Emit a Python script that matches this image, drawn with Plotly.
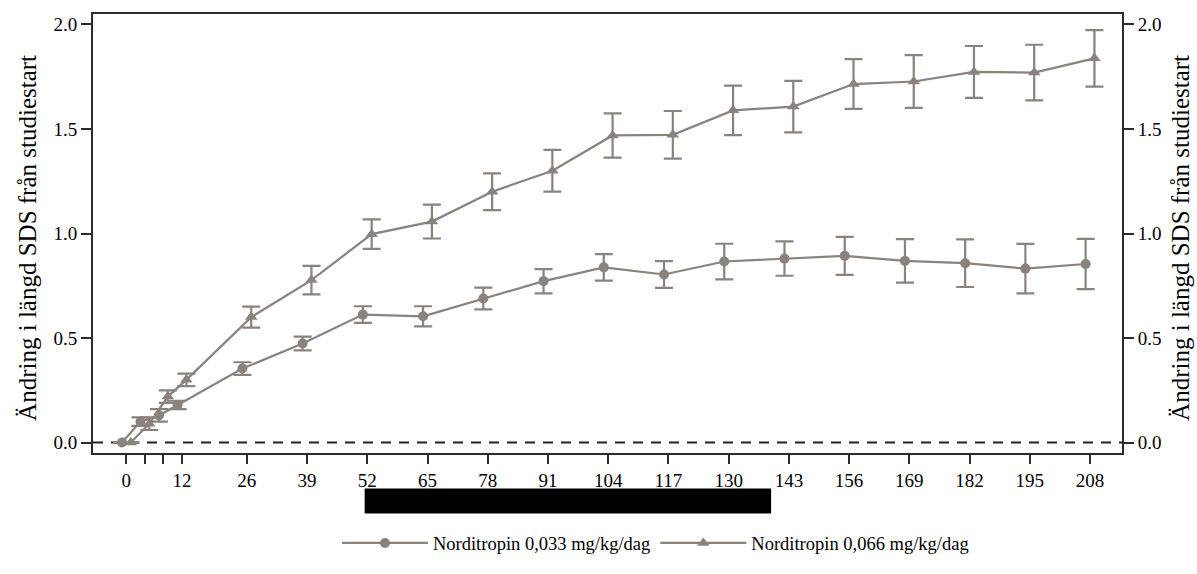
import plotly.graph_objects as go

# ---- data ----
weeks = [0, 4, 8, 12, 26, 39, 52, 65, 78, 91, 104, 117, 130, 143, 156, 169, 182, 195, 208]
tick_labels = ["0", "", "", "12", "26", "39", "52", "65", "78", "91", "104", "117",
               "130", "143", "156", "169", "182", "195", "208"]

low_name = "Norditropin 0,033 mg/kg/dag"
low_mean = [0.0, 0.10, 0.13, 0.18, 0.354, 0.474, 0.612, 0.604, 0.689, 0.772, 0.838,
            0.804, 0.866, 0.880, 0.893, 0.869, 0.858, 0.832, 0.854]
low_err = [0.0, 0.02, 0.03, 0.02, 0.03, 0.033, 0.04, 0.048, 0.052, 0.058, 0.063,
           0.064, 0.085, 0.082, 0.091, 0.104, 0.114, 0.118, 0.12]

high_name = "Norditropin 0,066 mg/kg/dag"
high_mean = [0.0, 0.09, 0.22, 0.30, 0.600, 0.777, 0.997, 1.057, 1.200, 1.30, 1.469,
             1.472, 1.589, 1.607, 1.715, 1.727, 1.773, 1.770, 1.838]
high_err = [0.0, 0.03, 0.03, 0.03, 0.05, 0.068, 0.071, 0.081, 0.088, 0.10, 0.106,
            0.114, 0.118, 0.123, 0.119, 0.126, 0.124, 0.133, 0.135]

y_ticks = [0.0, 0.5, 1.0, 1.5, 2.0]
y_title = "Ändring i längd SDS från studiestart"

# ---- styling ----
GRAY = "#8a827d"
AXIS = "#2b2b2b"
FONT = "Liberation Serif, Times New Roman, serif"
DODGE = 0.95  # horizontal offset (weeks) between the two groups

fig = go.Figure()
fig.add_trace(go.Scatter(
    x=[w - DODGE for w in weeks], y=low_mean, name=low_name,
    mode="lines+markers",
    line=dict(color=GRAY, width=2.2),
    marker=dict(symbol="circle", size=10, color=GRAY),
    error_y=dict(type="data", array=low_err, visible=True, color=GRAY,
                 thickness=2.2, width=9),
))
fig.add_trace(go.Scatter(
    x=[w + DODGE for w in weeks], y=high_mean, name=high_name,
    mode="lines+markers",
    line=dict(color=GRAY, width=2.2),
    marker=dict(symbol="triangle-up", size=11, color=GRAY),
    error_y=dict(type="data", array=high_err, visible=True, color=GRAY,
                 thickness=2.2, width=9),
))
# invisible trace to drive the right-hand axis
fig.add_trace(go.Scatter(x=[weeks[0]], y=[y_ticks[0]], yaxis="y2",
                         mode="markers", marker=dict(opacity=0),
                         showlegend=False, hoverinfo="skip"))


def axis_common(ticklen):
    return dict(
        showline=True, linecolor=AXIS, linewidth=2,
        ticks="outside", ticklen=ticklen, tickwidth=2, tickcolor=AXIS,
        showgrid=False, zeroline=False, automargin=False,
        tickfont=dict(family=FONT, size=19, color="black"),
    )


title_font = dict(family=FONT, size=25, color="black")

fig.update_layout(
    width=1197, height=574,
    margin=dict(l=93, r=75, t=14, b=105),
    paper_bgcolor="white", plot_bgcolor="white",
    font=dict(family=FONT, color="black"),
    xaxis=dict(**axis_common(9), range=[-7.2, 214.9], tickvals=weeks, ticktext=tick_labels,
               mirror=True),
    yaxis=dict(**axis_common(10), range=[-0.05, 2.05], tickvals=y_ticks, tickformat=".1f"),
    yaxis2=dict(**axis_common(10), range=[-0.05, 2.05], tickvals=y_ticks, tickformat=".1f",
                overlaying="y", side="right"),
    showlegend=True,
    legend=dict(orientation="h", x=0.5466, xanchor="center", y=-0.206, yanchor="middle",
                font=dict(family=FONT, size=18.5, color="black"),
                itemwidth=86, bgcolor="rgba(0,0,0,0)"),
    annotations=[
        dict(text=y_title, xref="paper", yref="paper", x=(28 - 93) / 1029, y=0.49,
             xanchor="center", yanchor="middle", textangle=-90, showarrow=False,
             font=title_font),
        dict(text=y_title, xref="paper", yref="paper", x=(1181 - 93) / 1029, y=0.49,
             xanchor="center", yanchor="middle", textangle=-90, showarrow=False,
             font=title_font),
    ],
    shapes=[
        dict(type="line", xref="paper", yref="y", x0=0, x1=1, y0=0, y1=0,
             line=dict(color="#222222", width=2, dash="10px,8px"), layer="below"),
        dict(type="rect", xref="paper", yref="paper", x0=0.264, x1=0.659,
             y0=-0.138, y1=-0.081, fillcolor="black", line=dict(width=0)),
    ],
)

fig.write_html("out.html", config={"displayModeBar": False},
               post_script="document.body.style.margin='0';document.body.style.overflow='hidden';")
